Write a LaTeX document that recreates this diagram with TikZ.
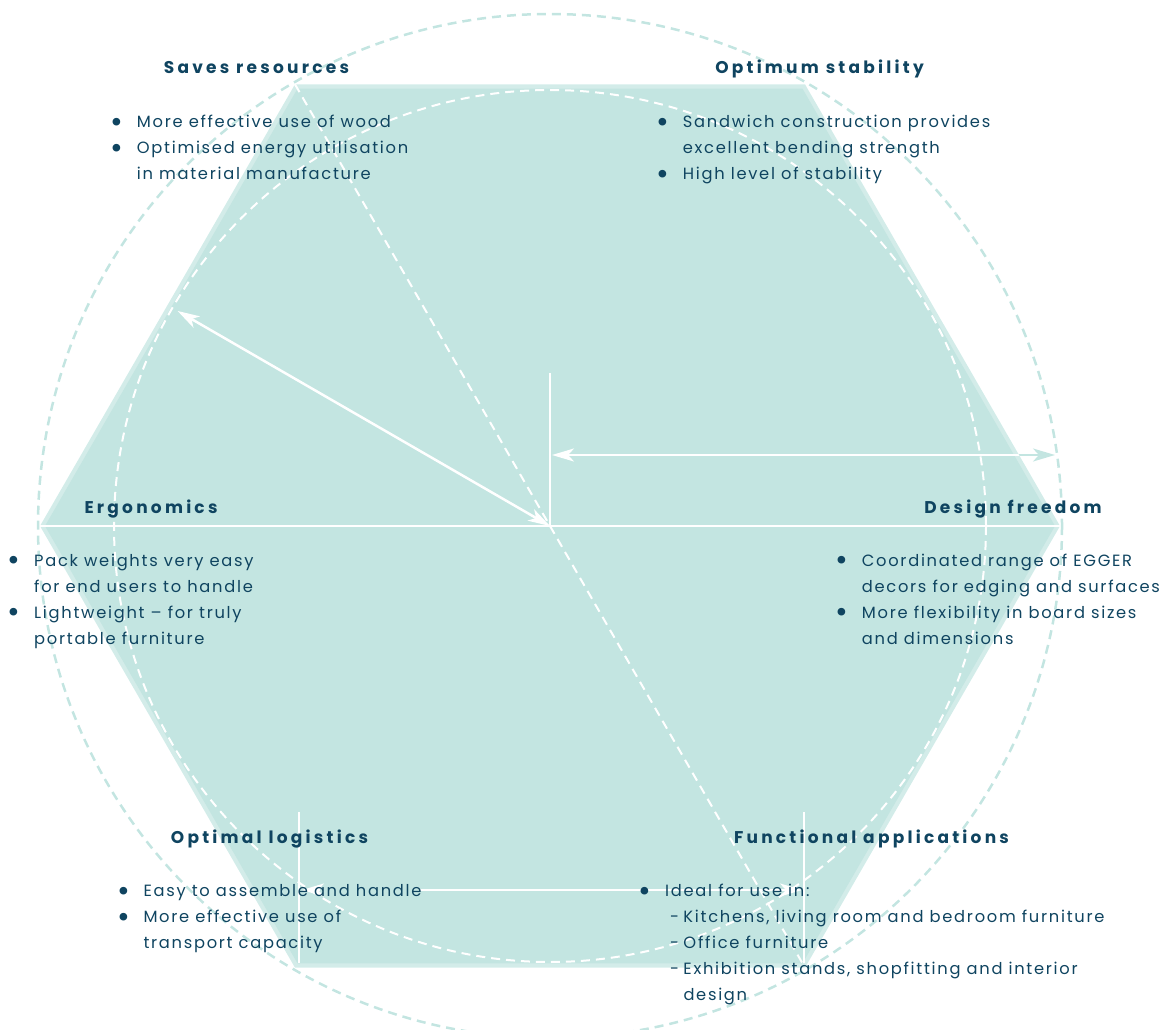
\documentclass[tikz,border=0pt]{standalone}
\usepackage{fontspec}
\setmainfont{Poppins}
\usetikzlibrary{arrows.meta,calc}
\definecolor{hexfill}{HTML}{C3E5E1}
\definecolor{hexedge}{HTML}{D3ECE9}
\definecolor{ink}{HTML}{0F4460}
\newcommand\bodyfont{\fontsize{16.3pt}{26pt}\selectfont\addfontfeature{LetterSpace=10.5}}
\newcommand\titlefont{\bfseries\fontsize{17pt}{20pt}\selectfont\addfontfeature{LetterSpace=19}}
\newcommand\bulsym{\raisebox{-4.8pt}{\scalebox{1.9}{\textbullet}}}
\newcommand\bul{\makebox[20pt][l]{\makebox[0pt]{\bulsym}}}
\newcommand\subl{\hspace*{5pt}\makebox[13.3pt][l]{-}}
\tikzset{
  ttl/.style={font=\titlefont, text=ink, inner sep=0pt, anchor=base},
  body/.style={font=\bodyfont, text=ink, inner sep=0pt, anchor=base west},
  wl/.style={draw=white, line width=2.5pt},
  tip/.tip={Stealth[length=22pt,width=13pt,inset=6pt]},
}
\begin{document}
\begin{tikzpicture}[x=1pt,y=-1pt]
\useasboundingbox (0,0) rectangle (1162,1030);
\clip (0,0) rectangle (1162,1030);
\coordinate (c) at (550,526);
\foreach \i in {0,...,5} {
  \coordinate (h\i) at ($(c)+(-\i*60:510)$);
  \coordinate (k\i) at ($(c)+(-\i*60:505)$);
}
% hexagon
\fill[hexedge] (h0) -- (h1) -- (h2) -- (h3) -- (h4) -- (h5) -- cycle;
\fill[hexfill] (k0) -- (k1) -- (k2) -- (k3) -- (k4) -- (k5) -- cycle;
% circles
\draw[hexfill, line width=2.5pt, dash pattern=on 9pt off 6pt] (c) circle[radius=512];
\draw[white, line width=2pt, dash pattern=on 9pt off 6pt] (c) circle[radius=436];
\draw[white, line width=2pt, dash pattern=on 9pt off 6pt] (h2) -- (h5);
% white lines
\coordinate (vtop) at (550,373);
\coordinate (dtip) at ($(c)+(-150:430)$);
\coordinate (ha) at (552,455);
\coordinate (hb) at (1055,455);
\coordinate (bl1) at (299,812);
\coordinate (bl2) at (299,963);
\coordinate (br1) at (804,812);
\coordinate (br2) at (804,963);
\coordinate (aL) at (302,890);
\coordinate (aL2) at (320,890);
\coordinate (aR1) at (420,890);
\coordinate (aR) at (802,890);
\draw[wl] (h3) -- (h0);
\draw[wl] (c) -- (vtop);
\draw[wl, tip-tip] (c) -- (dtip);
\draw[wl, draw=hexfill, tip-tip] (ha) -- (hb);
\begin{scope}
  \clip (h0) -- (h1) -- (h2) -- (h3) -- (h4) -- (h5) -- cycle;
  \draw[wl, tip-tip] (ha) -- (hb);
\end{scope}
\draw[wl] (bl1) -- (bl2);
\draw[wl] (br1) -- (br2);
\draw[wl, -tip] (aL2) -- (aL);
\draw[wl, -tip] (aR1) -- (aR);
% titles
\node[ttl] (t1) at (256.5,73.5) {Saves resources};
\node[ttl] (t2) at (819.5,74) {Optimum stability};
\node[ttl] (t3) at (151,513.3) {Ergonomics};
\node[ttl] (t4) at (1013,513.3) {Design freedom};
\node[ttl] (t5) at (269.5,843.3) {Optimal logistics};
\node[ttl] (t6) at (871.5,843.3) {Functional applications};
% bodies
\node[body] (b1) at (116.7,127.3) {\begin{tabular}[t]{@{}l@{}l@{}}
\bul & More effective use of wood\\
\bul & Optimised energy utilisation\\
 & in material manufacture
\end{tabular}};
\node[body] (b2) at (662.7,127.3) {\begin{tabular}[t]{@{}l@{}l@{}}
\bul & Sandwich construction provides\\
 & excellent bending strength\\
\bul & High level of stability
\end{tabular}};
\node[body] (b3) at (14,566) {\begin{tabular}[t]{@{}l@{}l@{}}
\bul & Pack weights very easy\\
 & for end users to handle\\
\bul & Lightweight – for truly\\
 & portable furniture
\end{tabular}};
\node[body] (b4) at (841.7,566) {\begin{tabular}[t]{@{}l@{}l@{}}
\bul & Coordinated range of EGGER\\
 & decors for edging and surfaces\\
\bul & More flexibility in board sizes\\
 & and dimensions
\end{tabular}};
\node[body] (b5) at (123.3,896.7) {\begin{tabular}[t]{@{}l@{}l@{}}
\bul & Easy to assemble and handle\\
\bul & More effective use of\\
 & transport capacity
\end{tabular}};
\node[body] (b6) at (645,896.7) {\begin{tabular}[t]{@{}l@{}l@{}}
\bul & Ideal for use in:\\
 & \subl Kitchens, living room and bedroom furniture\\
 & \subl Office furniture\\
 & \subl Exhibition stands, shopfitting and interior\\
 & \hspace*{18.3pt}design
\end{tabular}};
\end{tikzpicture}
\end{document}
